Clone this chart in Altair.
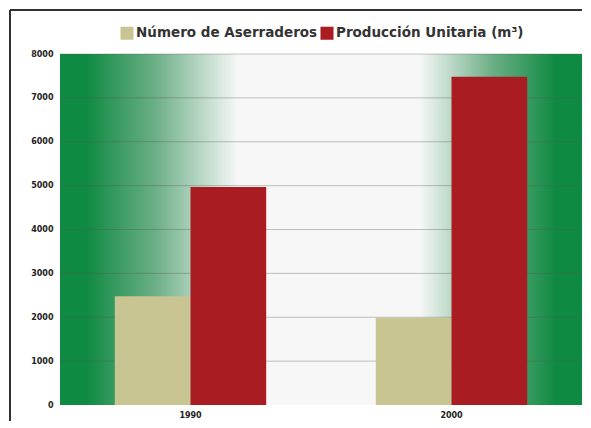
import altair as alt
import pandas as pd

years = ["1990", "2000"]
series = ["Número de Aserraderos", "Producción Unitaria (m³)"]
aserraderos = [2480, 1990]
produccion = [4970, 7480]
colors = ["#c9c592", "#a81c22"]
grid_values = [1000, 2000, 3000, 4000, 5000, 6000, 7000, 8000]

rows = []
for i, y in enumerate(years):
    rows.append({"year": y, "series": series[0], "value": aserraderos[i]})
    rows.append({"year": y, "series": series[1], "value": produccion[i]})
df = pd.DataFrame(rows)
grid_df = pd.DataFrame({"g": grid_values})

W, H = 522, 351

yscale = alt.Scale(domain=[0, 8000], nice=False)

green = "#0f8a42"
grad = alt.LinearGradient(
    gradient="linear", x1=0, x2=1, y1=0, y2=0,
    stops=[
        alt.GradientStop(offset=0.0, color=green),
        alt.GradientStop(offset=0.05, color=green),
        alt.GradientStop(offset=0.18, color="#6aae85"),
        alt.GradientStop(offset=0.34, color="#f6f7f6"),
        alt.GradientStop(offset=0.69, color="#f6f7f6"),
        alt.GradientStop(offset=0.83, color="#6aae85"),
        alt.GradientStop(offset=0.95, color=green),
        alt.GradientStop(offset=1.0, color=green),
    ],
)

bg = alt.Chart(grid_df).mark_rect(color=grad).encode(
    x=alt.value(0), x2=alt.value(W), y=alt.value(0), y2=alt.value(H)
)

grid = alt.Chart(grid_df).mark_rule(color="#555555", opacity=0.35, strokeWidth=1).encode(
    y=alt.Y("g:Q", scale=yscale)
)

bars = alt.Chart(df).mark_bar().encode(
    x=alt.X("year:N", sort=years, title=None,
            scale=alt.Scale(paddingInner=0.42, paddingOuter=0.21),
            axis=alt.Axis(labelAngle=0, labelFont="DejaVu Sans", labelFontWeight="bold",
                          labelFontSize=8, labelColor="#222222", ticks=False, domain=False,
                          labelPadding=6)),
    xOffset=alt.XOffset("series:N", sort=series),
    y=alt.Y("value:Q", scale=yscale, title=None,
            axis=alt.Axis(values=[0, 1000, 2000, 3000, 4000, 5000, 6000, 7000, 8000],
                          format="d",
                          grid=False, ticks=False, domain=False, labelPadding=7,
                          labelFont="DejaVu Sans", labelFontWeight="bold",
                          labelFontSize=8, labelColor="#222222")),
    color=alt.Color("series:N", sort=series,
                    scale=alt.Scale(domain=series, range=colors),
                    legend=alt.Legend(title=None, orient="none", legendX=60, legendY=-28,
                                      direction="horizontal", symbolType="square",
                                      symbolSize=170, symbolStrokeWidth=0, symbolOpacity=1,
                                      labelFont="DejaVu Sans", labelFontWeight="bold",
                                      labelFontSize=13.5, labelColor="#333333",
                                      labelOffset=2, columnPadding=2, labelLimit=400)),
)

frame_left = alt.Chart(grid_df).mark_rule(color="#333333", strokeWidth=1).encode(
    x=alt.value(-50), y=alt.value(-44), y2=alt.value(H + 100)
)
frame_top = alt.Chart(grid_df).mark_rule(color="#333333", strokeWidth=1).encode(
    x=alt.value(-50), x2=alt.value(W + 100), y=alt.value(-44)
)

chart = alt.layer(bg, grid, bars, frame_left, frame_top).properties(
    width=W, height=H,
    autosize=alt.AutoSizeParams(type="none"),
    padding={"left": 52, "top": 46, "right": 0, "bottom": 16},
    background="white",
).configure_view(stroke=None)

chart.save("out.html", embed_options={"renderer": "svg", "actions": False})
